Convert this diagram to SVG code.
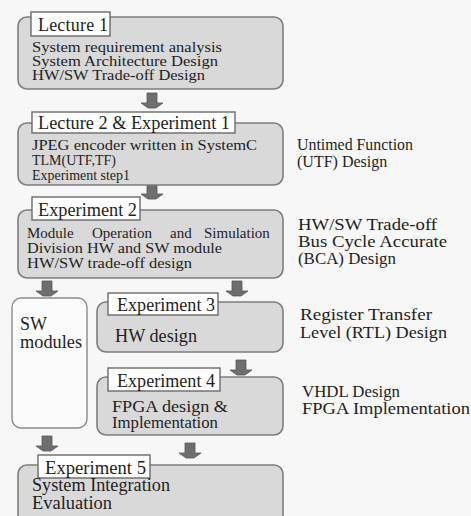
<svg xmlns="http://www.w3.org/2000/svg" width="471" height="516" viewBox="0 0 471 516">
<defs>
<style>
.box{fill:#d9d9d9;stroke:#7d7d7d;stroke-width:1.6}
.sw{fill:#fbfbfb;stroke:#8a8a8a;stroke-width:1.4}
.tab{fill:#ffffff;stroke:#6a6a6a;stroke-width:1.4}
text{font-family:"Liberation Serif","Times New Roman",serif;fill:#1e1e1e}
.t14{font-size:14.5px}
.t15{font-size:15px}
.t16{font-size:16px}
.t17{font-size:17px}
.t18{font-size:18px}
.arr{fill:#6e6e6e;stroke:#555;stroke-width:0.8}
</style>
<polygon id="arrow" class="arr" points="-5,0 5,0 5,10 11,10 4,15 -4,15 -11,10 -5,10"/>
</defs>
<rect width="471" height="516" fill="#f7f7f7"/>

<g id="connectors">
<use href="#arrow" x="152" y="93"/>
<use href="#arrow" x="152" y="184"/>
<use href="#arrow" x="47" y="281"/>
<use href="#arrow" x="237" y="281"/>
<use href="#arrow" x="241" y="360"/>
<use href="#arrow" x="47" y="436"/>
<use href="#arrow" x="190" y="443"/>
</g>

<g id="lecture1">
<rect class="box" x="18" y="17" width="265" height="72" rx="9"/>
<rect class="tab" x="31" y="12" width="79" height="24"/>
<text class="t18" x="38" y="31" textLength="70">Lecture 1</text>
<text class="t15" x="32" y="52" textLength="190" lengthAdjust="spacingAndGlyphs">System requirement analysis</text>
<text class="t15" x="32" y="66" textLength="186" lengthAdjust="spacingAndGlyphs">System Architecture Design</text>
<text class="t15" x="32" y="80" textLength="173" lengthAdjust="spacingAndGlyphs">HW/SW Trade-off Design</text>
</g>

<g id="lecture2">
<rect class="box" x="18" y="123" width="265" height="62" rx="9"/>
<rect class="tab" x="32" y="112" width="203" height="21"/>
<text class="t18" x="38" y="129" textLength="192" lengthAdjust="spacingAndGlyphs">Lecture 2 &amp; Experiment 1</text>
<text class="t15" x="32" y="150" textLength="225" lengthAdjust="spacingAndGlyphs">JPEG encoder written in SystemC</text>
<text class="t14" x="32" y="165" textLength="84" lengthAdjust="spacingAndGlyphs">TLM(UTF,TF)</text>
<text class="t14" x="32" y="180" textLength="98" lengthAdjust="spacingAndGlyphs">Experiment step1</text>
</g>

<g id="experiment2">
<rect class="box" x="18" y="210" width="265" height="68" rx="9"/>
<rect class="tab" x="32" y="197" width="108" height="23"/>
<text class="t18" x="38" y="216" textLength="99" lengthAdjust="spacingAndGlyphs">Experiment 2</text>
<text class="t15" y="238"><tspan x="27">Module</tspan><tspan x="92">Operation</tspan><tspan x="170">and</tspan><tspan x="204">Simulation</tspan></text>
<text class="t15" x="27" y="253" textLength="195" lengthAdjust="spacingAndGlyphs">Division HW and SW module</text>
<text class="t15" x="27" y="268" textLength="165" lengthAdjust="spacingAndGlyphs">HW/SW trade-off design</text>
</g>

<g id="swmodules">
<rect class="sw" x="12" y="298" width="75" height="130" rx="9"/>
<text class="t18" x="20" y="330">SW</text>
<text class="t18" x="20" y="348" textLength="62" lengthAdjust="spacingAndGlyphs">modules</text>
</g>

<g id="experiment3">
<rect class="box" x="97" y="302" width="186" height="50" rx="9"/>
<rect class="tab" x="108" y="293" width="110" height="22"/>
<text class="t18" x="117" y="311" textLength="98" lengthAdjust="spacingAndGlyphs">Experiment 3</text>
<text class="t18" x="115" y="342" textLength="82" lengthAdjust="spacingAndGlyphs">HW design</text>
</g>

<g id="experiment4">
<rect class="box" x="97" y="377" width="186" height="58" rx="9"/>
<rect class="tab" x="108" y="368" width="112" height="23"/>
<text class="t18" x="117" y="387" textLength="98" lengthAdjust="spacingAndGlyphs">Experiment 4</text>
<text class="t16" x="112" y="412" textLength="116" lengthAdjust="spacingAndGlyphs">FPGA design &amp;</text>
<text class="t16" x="112" y="428" textLength="106" lengthAdjust="spacingAndGlyphs">Implementation</text>
</g>

<g id="experiment5">
<rect class="box" x="18" y="465" width="265" height="62" rx="9"/>
<rect class="tab" x="38" y="455" width="112" height="23"/>
<text class="t18" x="45" y="474" textLength="101" lengthAdjust="spacingAndGlyphs">Experiment 5</text>
<text class="t18" x="32" y="491" textLength="138" lengthAdjust="spacingAndGlyphs">System Integration</text>
<text class="t18" x="32" y="509" textLength="80" lengthAdjust="spacingAndGlyphs">Evaluation</text>
</g>

<g id="side-labels">
<text class="t16" x="297" y="150" textLength="116" lengthAdjust="spacingAndGlyphs">Untimed Function</text>
<text class="t16" x="297" y="167">(UTF) Design</text>
<text class="t17" x="298" y="230" textLength="139" lengthAdjust="spacingAndGlyphs">HW/SW Trade-off</text>
<text class="t17" x="298" y="247" textLength="149" lengthAdjust="spacingAndGlyphs">Bus Cycle Accurate</text>
<text class="t17" x="298" y="264" textLength="98" lengthAdjust="spacingAndGlyphs">(BCA) Design</text>
<text class="t17" x="300" y="320" textLength="132" lengthAdjust="spacingAndGlyphs">Register Transfer</text>
<text class="t17" x="300" y="338" textLength="147" lengthAdjust="spacingAndGlyphs">Level (RTL) Design</text>
<text class="t17" x="302" y="397" textLength="98" lengthAdjust="spacingAndGlyphs">VHDL Design</text>
<text class="t17" x="302" y="414" textLength="168" lengthAdjust="spacingAndGlyphs">FPGA Implementation</text>
</g>
</svg>
